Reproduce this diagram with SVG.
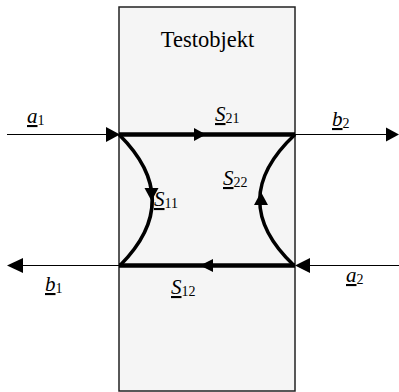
<svg xmlns="http://www.w3.org/2000/svg" width="399" height="392" viewBox="0 0 399 392">
<style>
.thin{stroke:#000;stroke-width:1.2;fill:none}
.thick{stroke:#000;stroke-width:4.5;fill:none}
.curve{stroke:#000;stroke-width:3.5;fill:none}
.head{fill:#000;stroke:none}
text{font-family:'Times New Roman','Liberation Serif','DejaVu Serif','Noto Serif',Times,serif;fill:#000}
.v{font-style:italic;font-size:21px;text-decoration:underline}
.s{font-size:14px}
.t{font-size:22.5px}
</style>
<g id="testobjekt">
<rect x="119" y="7" width="176" height="384" fill="#f5f5f5" stroke="#222" stroke-width="1.5"/>
<text class="t" x="207.5" y="47" text-anchor="middle">Testobjekt</text>
</g>
<g id="connectors">
<line class="thin" x1="7" y1="134.5" x2="108" y2="134.5"/>
<polygon class="head" points="120,134.5 106,127 106,142"/>
<line class="thin" x1="295" y1="134.5" x2="388" y2="134.5"/>
<polygon class="head" points="399,134.5 386,127.5 386,141.5"/>
<line class="thin" x1="20" y1="265.5" x2="119" y2="265.5"/>
<polygon class="head" points="7,265.5 23,258 23,273"/>
<line class="thin" x1="309" y1="265.5" x2="399" y2="265.5"/>
<polygon class="head" points="295,265.5 310,258 310,273"/>
<line class="thick" x1="119" y1="134.5" x2="295" y2="134.5"/>
<polygon class="head" points="206,134.5 194,128 194,141"/>
<line class="thick" x1="295" y1="265.5" x2="119" y2="265.5"/>
<polygon class="head" points="200,265.5 213,259 213,272"/>
<path class="curve" d="M119,134.5 Q185,200 120,265.5"/>
<polygon class="head" points="151.5,201 144.5,188 158.5,188"/>
<path class="curve" d="M295,134.5 Q225,200 294,265.5"/>
<polygon class="head" points="261,192 254,205 268,205"/>
</g>
<g id="labels">
<text x="27" y="123"><tspan class="v">a</tspan><tspan class="s" dy="1.5">1</tspan></text>
<text x="215" y="121"><tspan class="v">S</tspan><tspan class="s" dy="1.5">21</tspan></text>
<text x="332" y="126"><tspan class="v">b</tspan><tspan class="s" dy="1.5">2</tspan></text>
<text x="223" y="185"><tspan class="v">S</tspan><tspan class="s" dy="1.5">22</tspan></text>
<text x="154" y="206"><tspan class="v">S</tspan><tspan class="s" dy="1.5">11</tspan></text>
<text x="45" y="291"><tspan class="v">b</tspan><tspan class="s" dy="1.5">1</tspan></text>
<text x="171" y="294"><tspan class="v">S</tspan><tspan class="s" dy="1.5">12</tspan></text>
<text x="346" y="282"><tspan class="v">a</tspan><tspan class="s" dy="1.5">2</tspan></text>
</g>
</svg>
